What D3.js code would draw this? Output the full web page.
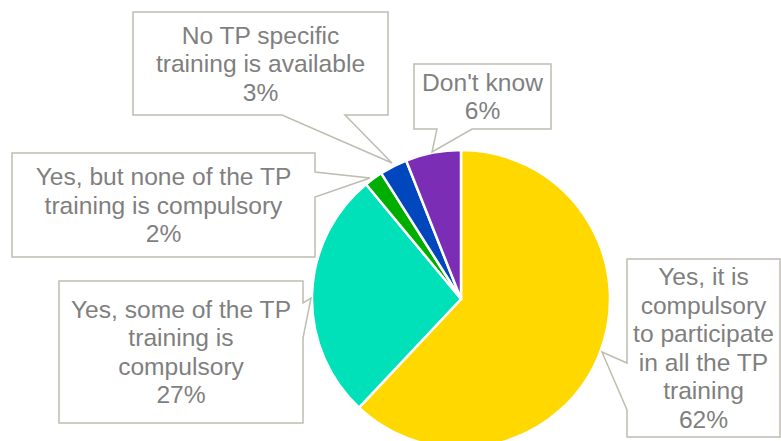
<!DOCTYPE html>
<html>
<head>
<meta charset="utf-8">
<script src="https://cdn.jsdelivr.net/npm/d3@7"></script>
<style>
  body { margin: 0; background: #fff; }
  svg { display: block; }
</style>
</head>
<body>
<svg id="chart" width="781" height="441"></svg>
<script>
// Data
const categories = [
    "Yes, it is compulsory to participate in all the TP training",
    "Yes, some of the TP training is compulsory",
    "Yes, but none of the TP training is compulsory",
    "No TP specific training is available",
    "Don't know"
];
const values = [62, 27, 2, 3, 6];
const colors = ["#ffd800", "#00e0b9", "#00ae00", "#0046bd", "#7b2db6"];
// label lines as they are wrapped in the callouts
const labelLines = [
    ["Yes, it is", "compulsory", "to participate", "in all the TP", "training", "62%"],
    ["Yes, some of the TP", "training is", "compulsory", "27%"],
    ["Yes, but none of the TP", "training is compulsory", "2%"],
    ["No TP specific", "training is available", "3%"],
    ["Don't know", "6%"]
];

// General Variables
const chart = d3.select("#chart");
const cx = 461, cy = 299, radius = 149;
const lineH = 28.5;

// callout boxes: [x, y, w, h], pointer base side and tip
const callouts = [
    { box: [627, 259, 153, 178], side: "left", base: [363, 410], tip: [602, 352] },
    { box: [59, 281, 244, 142], side: "right", base: [303, 338], tip: [311, 298] },
    { box: [12, 153, 303, 104], side: "right", base: [172, 197], tip: [370, 178] },
    { box: [133, 12, 255, 103], side: "bottom", base: [282, 345], tip: [392, 163] },
    { box: [414, 64, 137, 65], side: "bottom", base: [437, 472], tip: [432, 152] }
];

const pie = d3.pie().sort(null).value(d => d);
const arc = d3.arc().innerRadius(0).outerRadius(radius);

const g = chart.append("g")
    .attr("transform", "translate(" + cx + "," + cy + ")");

g.selectAll("path")
    .data(pie(values)).enter()
    .append("path")
    .attr("d", arc)
    .attr("fill", (d, i) => colors[i])
    .attr("stroke", "#fff")
    .attr("stroke-width", 2.5)
    .attr("stroke-linejoin", "round");

// callout shape: rectangle with a pointer
function calloutPath(c) {
    const [x, y, w, h] = c.box;
    const [b0, b1] = c.base;
    const [tx, ty] = c.tip;
    if (c.side === "left")
        return `M${x},${y}H${x + w}V${y + h}H${x}V${b1}L${tx},${ty}L${x},${b0}Z`;
    if (c.side === "right")
        return `M${x},${y}H${x + w}V${b0}L${tx},${ty}L${x + w},${b1}V${y + h}H${x}Z`;
    return `M${x},${y}H${x + w}V${y + h}H${b1}L${tx},${ty}L${b0},${y + h}H${x}Z`;
}

const labels = chart.selectAll("g.callout")
    .data(callouts).enter()
    .append("g")
    .attr("class", "callout");

labels.append("path")
    .attr("d", d => calloutPath(d))
    .attr("fill", "#fff")
    .attr("stroke", "#bdbdb0")
    .attr("stroke-width", 1.5);

labels.each(function (d, i) {
    const [x, y, w, h] = d.box;
    const lines = labelLines[i];
    const top = y + h / 2 - (lines.length - 1) * lineH / 2;
    const t = d3.select(this).append("text")
        .attr("text-anchor", "middle")
        .attr("font-family", "'Liberation Sans', Arial, sans-serif")
        .attr("font-size", 24.6)
        .attr("fill", "#7f7f80");
    lines.forEach((s, k) => {
        t.append("tspan")
            .attr("x", x + w / 2)
            .attr("y", top + k * lineH)
            .attr("dy", "0.35em")
            .text(s);
    });
});
</script>
</body>
</html>
